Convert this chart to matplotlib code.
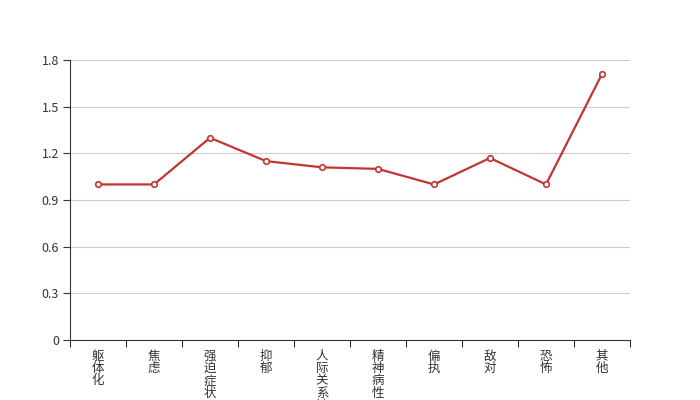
import matplotlib
matplotlib.use("Agg")
import matplotlib.pyplot as plt
import numpy as np

plt.rcParams['font.family'] = ['Noto Sans CJK SC', 'DejaVu Sans']

categories = ["躯体化", "焦虑", "强迫症状", "抑郁", "人际关系敏感", "精神病性", "偏执", "敌对", "恐怖", "其他"]
values = [1.0, 1.0, 1.30, 1.15, 1.11, 1.10, 1.0, 1.17, 1.0, 1.71]
yticks = [0, 0.3, 0.6, 0.9, 1.2, 1.5, 1.8]
ytick_labels = ["0", "0.3", "0.6", "0.9", "1.2", "1.5", "1.8"]

fig = plt.figure(figsize=(7, 4), dpi=100)
ax = fig.add_axes([0.1, 0.15, 0.8, 0.7])

x = np.arange(len(categories))
ax.plot(x, values, color='#c23531', linewidth=1.6, marker='o', markersize=4,
        markerfacecolor='white', markeredgecolor='#c23531', markeredgewidth=1.2, zorder=3,
        clip_on=False)

ax.set_xlim(-0.5, len(categories) - 0.5)
ax.set_ylim(0, 1.8)
ax.set_yticks(yticks)
ax.set_yticklabels(ytick_labels)
ax.yaxis.grid(True, color='#cccccc', linewidth=0.8)
ax.set_axisbelow(True)

ax.set_xticks(x)
ax.set_xticklabels(["\n".join(c) for c in categories], linespacing=0.93, va='top')
ax.set_xticks(np.arange(len(categories) + 1) - 0.5, minor=True)
ax.tick_params(axis='x', which='major', length=0, pad=7, labelsize=9, labelcolor='#333333')
ax.tick_params(axis='x', which='minor', length=5, color='#333333', width=0.8, direction='out')
ax.tick_params(axis='y', length=5, color='#333333', width=0.8, labelsize=9, labelcolor='#333333', pad=3)

for s in ['top', 'right']:
    ax.spines[s].set_visible(False)
for s in ['left', 'bottom']:
    ax.spines[s].set_color('#333333')
    ax.spines[s].set_linewidth(0.8)

fig.savefig("out.png", dpi=100)
